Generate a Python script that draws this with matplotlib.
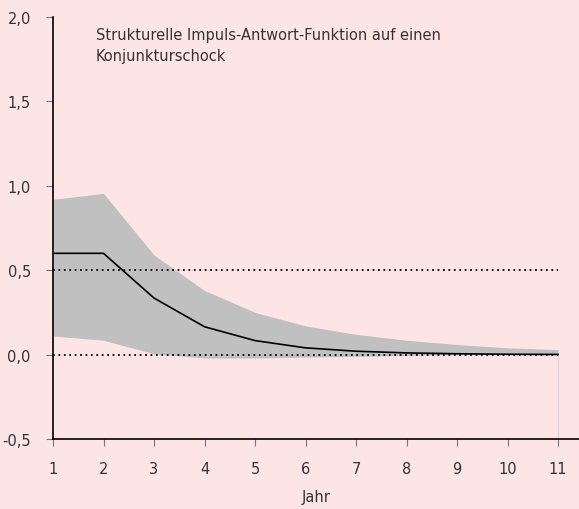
import numpy as np
import matplotlib.pyplot as plt

# Jahre nach dem Schock
years = [1, 2, 3, 4, 5, 6, 7, 8, 9, 10, 11]
# Punktschaetzer der Impuls-Antwort
response = [0.60, 0.60, 0.335, 0.165, 0.083, 0.04, 0.02, 0.01, 0.005, 0.002, 0.001]
# Konfidenzband
upper = [0.92, 0.955, 0.59, 0.38, 0.25, 0.17, 0.12, 0.085, 0.06, 0.04, 0.03]
lower = [0.11, 0.085, 0.005, -0.02, -0.02, -0.015, -0.01, -0.005, 0.0, 0.0, 0.0]

yticks = [-0.5, 0.0, 0.5, 1.0, 1.5, 2.0]
ytick_labels = ["-0,5", "0,0", "0,5", "1,0", "1,5", "2,0"]

bg = "#fde5e6"
txt = "#333333"

fig = plt.figure(figsize=(5.79, 5.10), dpi=100, facecolor=bg)
ax = fig.add_axes([53/579, 1-440/510, 1-53/579, (440-18)/510])
ax.set_facecolor(bg)

ax.fill_between(years, lower, upper, color="#c0c0c0", linewidth=0, zorder=1)
ax.axvline(years[-1], ymin=0, ymax=0.2, color="#d8d0d2", lw=0.8, zorder=0)
ax.plot(years, response, color="black", lw=1.2, zorder=3)
for y in [0.0, 0.5]:
    ax.plot([years[0], years[-1]], [y, y], color="black", lw=1.3,
            linestyle=(0, (1, 2)), zorder=2)

ax.set_xlim(1, 1 + (579 - 53) / 50.5)
ax.set_ylim(-0.5, 2.0)
ax.set_xticks(years)
ax.set_yticks(yticks)
ax.set_yticklabels(ytick_labels)

for s in ["top", "right"]:
    ax.spines[s].set_visible(False)
ax.spines["left"].set_linewidth(1.2)
ax.spines["bottom"].set_linewidth(1.2)
ax.tick_params(axis="y", direction="out", length=5, color="#777777",
               labelsize=10.5, labelcolor=txt, pad=11)
ax.tick_params(axis="x", direction="out", length=5, color="#777777",
               labelsize=10.5, labelcolor=txt, pad=11)

ax.set_xlabel("Jahr", fontsize=10.5, color=txt, labelpad=9)
ax.text(96/579, 1-46/510, "Strukturelle Impuls-Antwort-Funktion auf einen\nKonjunkturschock",
        transform=fig.transFigure, fontsize=10.5, color=txt, va="center",
        linespacing=1.45)

fig.savefig("out.png", dpi=100, facecolor=bg)
